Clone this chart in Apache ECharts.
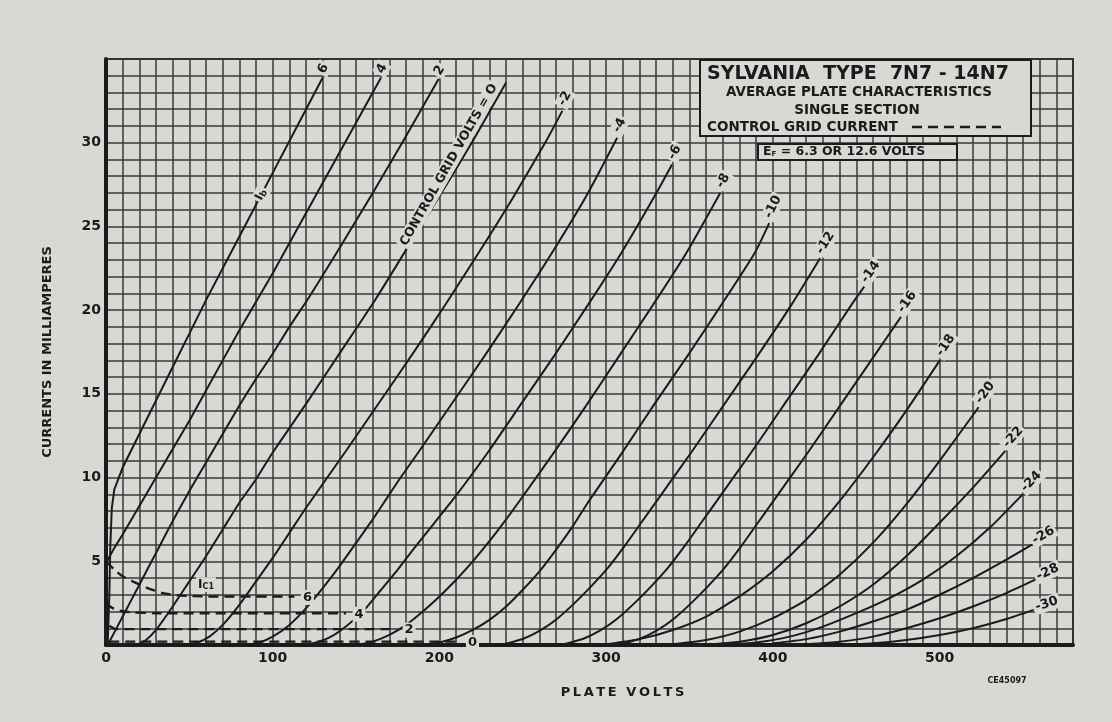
<!DOCTYPE html>
<html>
<head>
<meta charset="utf-8">
<title>Sylvania 7N7 - 14N7 plate characteristics</title>
<script src="https://cdn.jsdelivr.net/npm/echarts/dist/echarts.min.js"></script>
<style>
  html, body { margin: 0; padding: 0; background: #d8d8d5; }
  #main { width: 1112px; height: 722px; }
</style>
</head>
<body>
<div id="main"></div>
<script>
// grid volts of each plate curve, in the order of the arrays below
var gridVolts = ['6', '4', '2', '0', '-2', '-4', '-6', '-8', '-10', '-12', '-14', '-16', '-18', '-20', '-22', '-24', '-26', '-28', '-30'];

// plate current (mA) against plate volts
var ipPos6 = [[1, 0], [2, 3], [2.6, 6], [3.5, 8.2], [5, 9.3], [10, 10.6], [20, 12.6], [30, 14.6], [40, 16.6], [50, 18.6], [60, 20.6], [80, 24.4], [100, 28.2], [120, 32], [130, 33.9]];
var ipPos4 = [[0, 0], [0.3, 3], [0.6, 5], [5, 5.8], [10, 6.6], [20, 8.3], [30, 10], [40, 11.7], [50, 13.4], [60, 15.2], [70, 17], [80, 18.8], [90, 20.5], [100, 22.2], [120, 25.8], [140, 29.4], [165, 33.9]];
var ipPos2 = [[1, 0], [10, 1.7], [20, 3.6], [30, 5.5], [40, 7.4], [50, 9.2], [60, 10.9], [70, 12.6], [80, 14.3], [90, 15.9], [100, 17.4], [110, 19], [122, 20.8], [140, 23.7], [160, 27], [180, 30.4], [199.5, 33.8]];
var ip0 = [[18, 0], [24, 0.3], [30, 0.9], [40, 2.3], [50, 3.8], [60, 5.3], [70, 6.9], [80, 8.5], [90, 9.9], [100, 11.5], [120, 14.4], [140, 17.4], [162, 20.7], [180, 23.6], [200, 26.8], [220, 30.1], [240, 33.6]];
var ipNeg2 = [[48, 0], [55, 0.15], [62, 0.5], [70, 1.2], [80, 2.4], [90, 3.8], [100, 5.2], [110, 6.7], [120, 8.2], [132, 9.9], [144, 11.6], [164, 14.5], [184, 17.4], [204, 20.4], [224, 23.5], [244, 26.7], [264, 30.1], [273.7, 31.9]];
var ipNeg4 = [[85, 0], [92, 0.15], [100, 0.5], [110, 1.2], [120, 2.2], [130, 3.4], [140, 4.7], [150, 6.1], [160, 7.5], [168, 8.7], [176, 9.9], [188, 11.6], [208, 14.5], [228, 17.4], [248, 20.4], [268, 23.5], [288, 26.8], [306.6, 30.3]];
var ipNeg6 = [[118, 0], [126, 0.15], [135, 0.5], [145, 1.2], [155, 2.1], [165, 3.3], [175, 4.5], [185, 5.8], [197, 7.3], [209, 8.8], [229, 11.5], [249, 14.4], [269, 17.3], [289, 20.3], [309, 23.4], [329, 26.8], [339.5, 28.7]];
var ipNeg8 = [[150, 0], [160, 0.2], [170, 0.6], [180, 1.2], [190, 2.0], [200, 2.9], [210, 3.9], [220, 5.0], [230, 6.2], [240, 7.5], [248, 8.6], [268, 11.4], [288, 14.3], [308, 17.3], [328, 20.3], [348, 23.4], [368.4, 27.0]];
var ipNeg10 = [[190, 0], [200, 0.15], [210, 0.45], [220, 0.9], [230, 1.5], [240, 2.3], [250, 3.3], [260, 4.4], [270, 5.7], [280, 7.1], [289, 8.5], [309, 11.4], [329, 14.4], [349, 17.3], [369, 20.3], [389, 23.4], [397.8, 25.2]];
var ipNeg12 = [[236, 0], [241, 0.1], [251, 0.4], [261, 0.9], [271, 1.6], [281, 2.5], [291, 3.5], [301, 4.6], [311, 5.9], [321, 7.3], [331, 8.7], [351, 11.5], [371, 14.4], [391, 17.3], [411, 20.3], [428.3, 23.1]];
var ipNeg14 = [[272, 0], [277, 0.1], [287, 0.4], [297, 0.9], [307, 1.6], [317, 2.5], [327, 3.5], [337, 4.6], [347, 5.9], [357, 7.3], [367, 8.7], [387, 11.5], [407, 14.4], [427, 17.3], [447, 20.3], [454.8, 21.4]];
var ipNeg16 = [[306, 0], [311, 0.1], [321, 0.4], [331, 0.9], [341, 1.6], [351, 2.5], [361, 3.5], [371, 4.6], [381, 5.9], [391, 7.3], [401, 8.7], [421, 11.5], [441, 14.4], [461, 17.3], [476.8, 19.6]];
var ipNeg18 = [[300, 0.05], [320, 0.35], [340, 0.9], [360, 1.7], [380, 2.9], [400, 4.4], [420, 6.3], [440, 8.6], [460, 11.2], [480, 14.0], [500.1, 17.0]];
var ipNeg20 = [[340, 0.05], [360, 0.3], [380, 0.8], [400, 1.6], [420, 2.7], [440, 4.2], [460, 6.1], [480, 8.4], [500, 11.0], [523.4, 14.2]];
var ipNeg22 = [[360, 0.02], [380, 0.2], [400, 0.6], [420, 1.3], [440, 2.3], [460, 3.6], [480, 5.3], [500, 7.3], [520, 9.4], [539.4, 11.6]];
var ipNeg24 = [[370, 0], [390, 0.15], [410, 0.5], [430, 1.1], [450, 1.9], [470, 2.8], [490, 3.9], [510, 5.3], [530, 7.0], [549.8, 9.0]];
var ipNeg26 = [[400, 0.1], [420, 0.35], [440, 0.8], [460, 1.4], [480, 2.1], [500, 3.0], [520, 4.0], [540, 5.1], [555.4, 6.0]];
var ipNeg28 = [[420, 0.05], [440, 0.2], [460, 0.5], [480, 1.0], [500, 1.6], [520, 2.3], [540, 3.1], [557.4, 3.9]];
var ipNeg30 = [[440, 0], [460, 0.1], [480, 0.3], [500, 0.6], [520, 1.0], [540, 1.55], [556.4, 2.1]];

// control grid current (dashed), for grid volts 6, 4, 2 and 0
var icLabels = ['6', '4', '2', '0'];
var icPos6 = [[0, 5], [5, 4.5], [10, 4.1], [16, 3.8], [25, 3.4], [34, 3.1], [45, 2.95], [60, 2.9], [113, 2.9]];
var icPos4 = [[0, 2.5], [4, 2.2], [8, 2.05], [16, 1.95], [30, 1.9], [144, 1.9]];
var icPos2 = [[2, 1.15], [6, 0.95], [174, 0.95]];
var ic0 = [[2, 0.2], [212, 0.2]];

var INK = '#1b1b1b';
var GRID = '#3a3a3a';
var PAPER = '#d8d8d5';
var FONT = '"DejaVu Sans", "Liberation Sans", sans-serif';
var THIN = '\u2009';

var plateCurves = [ipPos6, ipPos4, ipPos2, ip0, ipNeg2, ipNeg4, ipNeg6, ipNeg8, ipNeg10, ipNeg12, ipNeg14, ipNeg16, ipNeg18, ipNeg20, ipNeg22, ipNeg24, ipNeg26, ipNeg28, ipNeg30];
var gridCurves = [icPos6, icPos4, icPos2, ic0];

var myChart = echarts.init(document.getElementById('main'));

var series = [];
plateCurves.forEach(function (pts, i) {
    series.push({
        name: 'Ec = ' + gridVolts[i],
        type: 'line',
        data: pts,
        showSymbol: false,
        smooth: i < 2 ? false : 0.2,
        silent: true,
        lineStyle: { color: INK, width: 2 },
        z: 3
    });
});
gridCurves.forEach(function (pts, i) {
    series.push({
        name: 'Ic ' + icLabels[i],
        type: 'line',
        data: pts,
        showSymbol: false,
        smooth: 0.2,
        silent: true,
        lineStyle: { color: INK, width: 2.4, type: [10, 6] },
        z: 3
    });
});

var option = {
    backgroundColor: PAPER,
    animation: false,
    grid: { left: 106, right: 39, top: 59, bottom: 77, show: true, borderColor: INK, borderWidth: 2 },
    xAxis: {
        type: 'value', min: 0, max: 580, interval: 10,
        axisLine: { show: true, onZero: false, lineStyle: { color: INK, width: 4 } },
        axisTick: { show: false },
        splitLine: { show: true, lineStyle: { color: GRID, width: 1.5 } },
        axisLabel: {
            formatter: function (v) { return v % 100 === 0 ? String(v) : ''; },
            color: INK, fontFamily: FONT, fontWeight: 'bold', fontSize: 14, margin: 6
        },
        name: 'PLATE VOLTS'.split('').join(THIN), nameLocation: 'middle', nameGap: 41,
        nameTextStyle: { color: INK, fontFamily: FONT, fontWeight: 'bold', fontSize: 13, padding: [0, 0, 0, 66] }
    },
    yAxis: {
        type: 'value', min: 0, max: 35, interval: 1,
        axisLine: { show: true, onZero: false, lineStyle: { color: INK, width: 4 } },
        axisTick: { show: false },
        splitLine: { show: true, lineStyle: { color: GRID, width: 1.5 } },
        axisLabel: {
            formatter: function (v) { return (v % 5 === 0 && v > 0 && v < 35) ? String(v) : ''; },
            color: INK, fontFamily: FONT, fontWeight: 'bold', fontSize: 14, margin: 5
        },
        name: 'CURRENTS IN MILLIAMPERES', nameLocation: 'middle', nameGap: 52, nameRotate: 90,
        nameTextStyle: { color: INK, fontFamily: FONT, fontWeight: 'bold', fontSize: 13 }
    },
    series: series
};
myChart.setOption(option);

// labels placed from the curves through the chart's own scales
function px(p) { return myChart.convertToPixel({ gridIndex: 0 }, p); }
function label(txt, x, y, size, rot, extra) {
    var st = {
        text: txt, x: 0, y: 0, font: 'bold ' + size + 'px ' + FONT, fill: INK,
        align: 'center', verticalAlign: 'middle', textAlign: 'center', textVerticalAlign: 'middle',
        backgroundColor: PAPER, padding: [1, 2]
    };
    if (extra) { for (var k in extra) st[k] = extra[k]; }
    return { type: 'text', x: x, y: y, rotation: rot || 0, z: 60, silent: true, style: st };
}

var g = [];
plateCurves.forEach(function (pts, i) {
    var a = px(pts[pts.length - 2]), b = px(pts[pts.length - 1]);
    var ang = Math.atan2(a[1] - b[1], b[0] - a[0]);
    var d = [Math.cos(ang), -Math.sin(ang)];
    if (gridVolts[i] === '0') {
        var n = [-Math.sin(ang), -Math.cos(ang)];
        g.push(label('CONTROL GRID VOLTS = O', b[0] - 100 * d[0] + 9 * n[0], b[1] - 100 * d[1] + 9 * n[1], 12.5, ang));
        return;
    }
    var dist = gridVolts[i].length * 4 + 6;
    g.push(label(gridVolts[i], b[0] + dist * d[0] - 4, b[1] + dist * d[1], 13, ang));
});
gridCurves.forEach(function (pts, i) {
    var b = px(pts[pts.length - 1]);
    g.push(label(icLabels[i], b[0] + 13, b[1] + 1, 13, 0));
});
var pIc = px([60, 3.6]);
g.push(label('{a|I}{b|C1}', pIc[0], pIc[1], 11, 0, {
    rich: { a: { font: 'bold 12px ' + FONT, fill: INK }, b: { font: 'bold 8px ' + FONT, fill: INK, padding: [5, 0, 0, 0] } }
}));
var pIb = px([93, 26.9]);
var pIb2 = px([100, 28.2]), pIb1 = px([80, 24.4]);
g.push(label('{a|I}{b|b}', pIb[0], pIb[1], 11, Math.atan2(pIb1[1] - pIb2[1], pIb2[0] - pIb1[0]), {
    rich: { a: { font: 'bold 12px ' + FONT, fill: INK }, b: { font: 'bold 9px ' + FONT, fill: INK, padding: [4, 0, 0, 0] } }
}));

// title box
g.push({ type: 'rect', z: 55, silent: true, shape: { x: 700, y: 60, width: 331, height: 76 }, style: { fill: PAPER, stroke: INK, lineWidth: 2 } });
g.push({ type: 'text', z: 60, silent: true, x: 858, y: 74, style: { text: 'SYLVANIA  TYPE  7N7 - 14N7', font: 'bold 19px ' + FONT, fill: INK, align: 'center', verticalAlign: 'middle', textAlign: 'center', textVerticalAlign: 'middle' } });
g.push({ type: 'text', z: 60, silent: true, x: 859, y: 92, style: { text: 'AVERAGE PLATE CHARACTERISTICS', font: 'bold 13.5px ' + FONT, fill: INK, align: 'center', verticalAlign: 'middle', textAlign: 'center', textVerticalAlign: 'middle' } });
g.push({ type: 'text', z: 60, silent: true, x: 857, y: 110, style: { text: 'SINGLE SECTION', font: 'bold 13.5px ' + FONT, fill: INK, align: 'center', verticalAlign: 'middle', textAlign: 'center', textVerticalAlign: 'middle' } });
g.push({ type: 'text', z: 60, silent: true, x: 707, y: 127, style: { text: 'CONTROL GRID CURRENT', font: 'bold 13.5px ' + FONT, fill: INK, align: 'left', verticalAlign: 'middle', textAlign: 'left', textVerticalAlign: 'middle' } });
g.push({ type: 'line', z: 60, silent: true, shape: { x1: 912, y1: 127, x2: 1001, y2: 127 }, style: { stroke: INK, lineWidth: 2.4, lineDash: [10, 6] } });

// heater box
g.push({ type: 'rect', z: 55, silent: true, shape: { x: 758, y: 144, width: 199, height: 16 }, style: { fill: PAPER, stroke: INK, lineWidth: 2 } });
g.push({ type: 'text', z: 60, silent: true, x: 763, y: 152, style: {
    text: '{e|E}{s|F}{t| = 6.3 OR 12.6 VOLTS}', align: 'left', verticalAlign: 'middle', textAlign: 'left', textVerticalAlign: 'middle',
    rich: { e: { font: 'bold 12.5px ' + FONT, fill: INK }, s: { font: 'bold 7px ' + FONT, fill: INK, padding: [4, 0, 0, 0] }, t: { font: 'bold 12.5px ' + FONT, fill: INK } }
} });

g.push({ type: 'text', z: 60, silent: true, x: 1007, y: 681, style: { text: 'CE45097', font: 'bold 8px ' + FONT, fill: INK, align: 'center', verticalAlign: 'middle', textAlign: 'center', textVerticalAlign: 'middle' } });

myChart.setOption({ graphic: g });
</script>
</body>
</html>
